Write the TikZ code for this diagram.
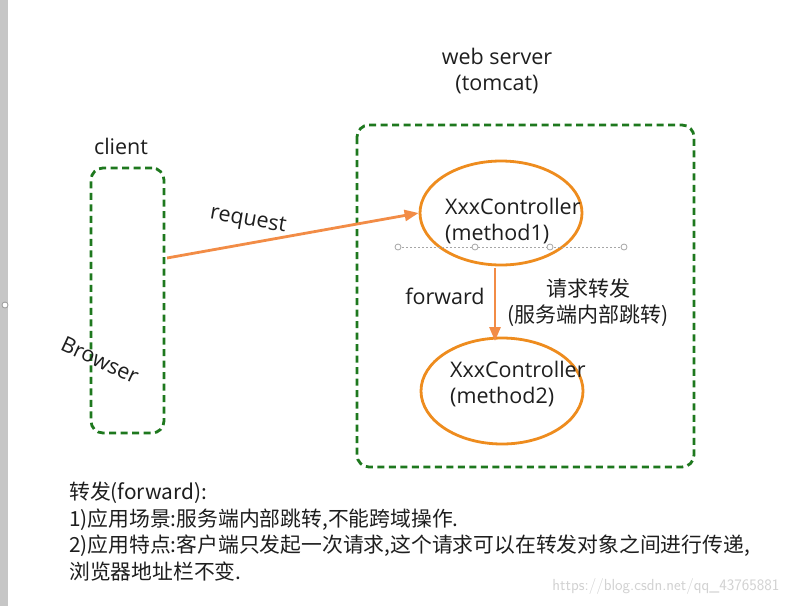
\documentclass[tikz,border=0pt]{standalone}
\usepackage{fontspec}
\setmainfont{Open Sans}
\newfontfamily\cjk{Noto Sans CJK SC}
\usetikzlibrary{arrows.meta,shapes.geometric}
\definecolor{boxgreen}{RGB}{30,120,30}
\definecolor{arroworange}{RGB}{242,140,70}
\definecolor{ellorange}{RGB}{238,140,30}
\definecolor{txt}{RGB}{30,30,30}
\tikzset{
  greenbox/.style={draw=boxgreen,line width=2.8pt,dash pattern=on 7pt off 4.5pt,rounded corners=12pt},
  ctrl/.style={draw=ellorange,line width=2.8pt,ellipse},
  orangearrow/.style={draw=arroworange,line width=2.8pt,-{Triangle[length=14pt,width=11pt]}},
  lbl/.style={text=txt,font=\fontsize{21.5}{26}\selectfont,inner sep=0pt},
  handle/.style={circle,draw=gray!70,line width=0.8pt,fill=white,minimum size=6pt,inner sep=0pt},
}
\begin{document}
\begin{tikzpicture}[x=1pt,y=-1pt]
\useasboundingbox (0,0) rectangle (795,606);
\fill[white] (0,0) rectangle (795,606);
% left gray bar
\fill[gray!45] (0,0) rectangle (8,606);
\node[handle,draw=gray!80] (lefthandle) at (5,305) {};
% titles
\node[lbl,align=center] (servertitle) at (497,71) {web server\\(tomcat)};
\node[lbl] (clienttitle) at (121,146) {client};
% boxes
\draw[greenbox] (357,125) rectangle (694,467);
\node[greenbox,minimum width=73pt,minimum height=265pt,inner sep=0pt] (client) at (127.5,300.5) {};
\node[lbl,rotate=-25] (browser) at (100,360) {Browser};
% ellipses
\node[ctrl,minimum width=162pt,minimum height=104pt] (m1) at (501,213) {};
\node[ctrl,minimum width=162pt,minimum height=106pt] (m2) at (502,391) {};
\node[lbl,align=left,anchor=west,font=\fontsize{21.5}{26}\selectfont] (m1t) at (445,221) {XxxController\\(method1)};
\node[lbl,align=left,anchor=west,font=\fontsize{21.5}{26}\selectfont] (m2t) at (450,384) {XxxController\\(method2)};
% dotted line with handles
\coordinate (d1) at (398,247);
\coordinate (d4) at (624,247);
\draw[gray!70,line width=0.8pt,dash pattern=on 2pt off 2pt] (d1) -- (d4);
\node[handle] (h1) at (398,247) {};
\node[handle] (h2) at (475,247) {};
\node[handle] (h3) at (550,247) {};
\node[handle] (h4) at (624,247) {};
% arrows
\coordinate (reqstart) at (167,258);
\draw[orangearrow] (reqstart) -- (m1.west);
\node[lbl,rotate=-10] (reqlbl) at (248,221) {request};
\coordinate (fwdstart) at (495,268);
\coordinate (fwdend) at (495,341);
\draw[orangearrow] (fwdstart) -- (fwdend);
\node[lbl] (fwdlbl) at (445,296) {forward};
\node[lbl,align=center,font=\cjk\fontsize{21}{26}\selectfont] (fwdcn) at (588,303) {请求转发\\(服务端内部跳转)};
% bottom text
\node[lbl,anchor=north west,align=left,font=\cjk\fontsize{20.8}{26.5}\selectfont] (notes) at (69,482) {转发(forward):\\1)应用场景:服务端内部跳转,不能跨域操作.\\2)应用特点:客户端只发起一次请求,这个请求可以在转发对象之间进行传递,\\浏览器地址栏不变.};
\node[text=gray!35,font=\fontsize{16}{18}\selectfont\sffamily,inner sep=0pt] (wm) at (666,586) {https://blog.csdn.net/qq\_43765881};
\end{tikzpicture}
\end{document}
